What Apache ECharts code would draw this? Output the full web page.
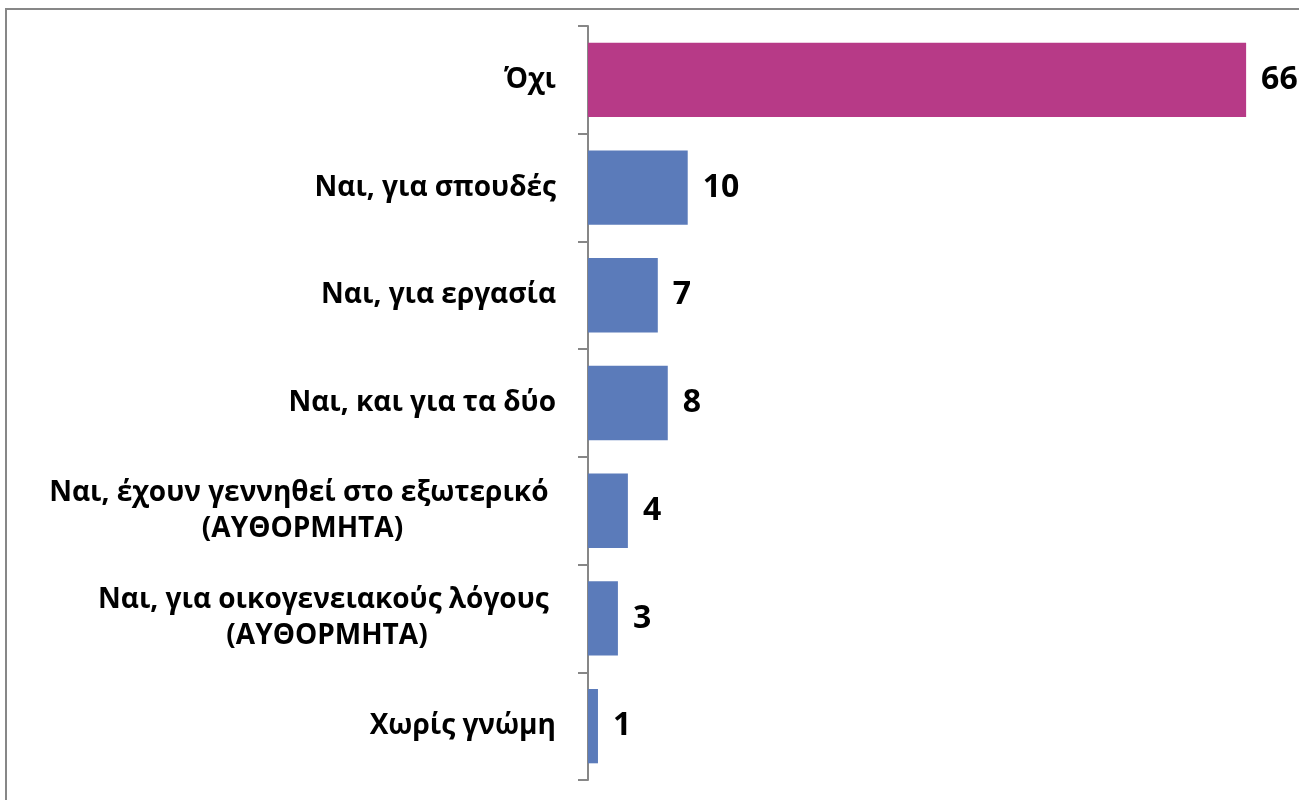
<!DOCTYPE html>
<html>
<head>
<meta charset="utf-8">
<script src="https://cdn.jsdelivr.net/npm/echarts@6/dist/echarts.min.js"></script>
<style>
  html, body { margin: 0; padding: 0; background: #ffffff; }
  #chart { width: 1299px; height: 800px; }
</style>
</head>
<body>
<div id="chart"></div>
<script>
// Survey answers, listed top to bottom
const categories = [
  'Όχι',
  'Ναι, για σπουδές',
  'Ναι, για εργασία',
  'Ναι, και για τα δύο',
  'Ναι, έχουν γεννηθεί στο εξωτερικό \n(ΑΥΘΟΡΜΗΤΑ)',
  'Ναι, για οικογενειακούς λόγους \n(ΑΥΘΟΡΜΗΤΑ)',
  'Χωρίς γνώμη'
];
// Percentages
const values = [66, 10, 7, 8, 4, 3, 1];

const FONT = '"Open Sans", "Noto Sans", sans-serif';
const LABEL_SIZE = 28;
const LABEL_LINE = 36;
const MAGENTA = '#B73A87';
const BLUE = '#5B7BBA';

// Two-line labels keep their lines centred on each other, block right-aligned
const measureCtx = document.createElement('canvas').getContext('2d');
measureCtx.font = 'bold ' + LABEL_SIZE + 'px ' + FONT;
const rich = {};
const labelText = {};
categories.forEach((c, i) => {
  if (c.indexOf('\n') < 0) { labelText[c] = c; return; }
  const lines = c.split('\n');
  const w = Math.ceil(Math.max(...lines.map(l => measureCtx.measureText(l).width)));
  const key = 'r' + i;
  rich[key] = {
    width: w, align: 'center', fontSize: LABEL_SIZE, fontWeight: 'bold',
    fontFamily: FONT, color: '#000', lineHeight: LABEL_LINE
  };
  labelText[c] = lines.map(l => '{' + key + '|' + l + '}').join('\n');
});

const chart = echarts.init(document.getElementById('chart'), null, { renderer: 'canvas' });
chart.setOption({
  animation: false,
  backgroundColor: '#ffffff',
  graphic: [{
    type: 'rect',
    shape: { x: 6, y: 9, width: 1400, height: 900 },
    style: { fill: 'none', stroke: '#878787', lineWidth: 2 },
    silent: true
  }],
  grid: { left: 588, top: 26, width: 698, height: 754, containLabel: false },
  xAxis: {
    type: 'value', min: 0, max: 70, show: false
  },
  yAxis: {
    type: 'category',
    inverse: true,
    data: categories,
    axisLine: { show: true, lineStyle: { color: '#878787', width: 2 } },
    axisTick: { show: true, length: 10, lineStyle: { color: '#878787', width: 2 } },
    axisLabel: {
      margin: 32,
      fontSize: LABEL_SIZE,
      fontWeight: 'bold',
      fontFamily: FONT,
      color: '#000',
      lineHeight: LABEL_LINE,
      formatter: v => labelText[v],
      rich: rich
    },
    splitLine: { show: false }
  },
  series: [{
    type: 'bar',
    data: values,
    barCategoryGap: '31%',
    itemStyle: {
      color: p => (p.dataIndex === 0 ? MAGENTA : BLUE)
    },
    label: {
      show: true,
      position: 'right',
      distance: 15,
      fontSize: 32,
      fontWeight: 'bold',
      fontFamily: FONT,
      color: '#000'
    }
  }]
});
</script>
</body>
</html>
